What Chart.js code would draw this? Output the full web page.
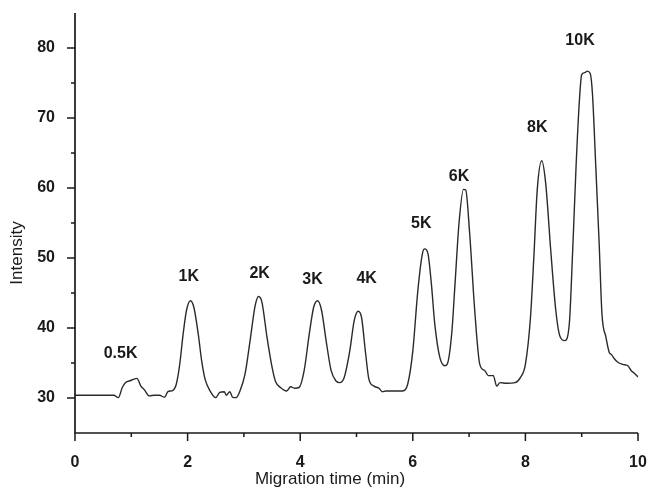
<!DOCTYPE html>
<html>
<head>
<meta charset="utf-8">
<script src="https://cdn.jsdelivr.net/npm/chart.js@4.4.0/dist/chart.umd.min.js"></script>
<style>
  html, body { margin: 0; padding: 0; background: #fff; }
  #wrap { width: 648px; height: 498px; position: relative; }
</style>
</head>
<body>
<div id="wrap"><canvas id="chart"></canvas></div>
<script>
// Electropherogram trace
const timeMin = [
    0, 0.69, 0.77, 0.84, 0.90, 0.99, 1.05, 1.10, 1.17, 1.23,
    1.32, 1.41, 1.50, 1.59, 1.65, 1.74, 1.80, 1.86, 1.92, 1.98,
    2.05, 2.11, 2.19, 2.25, 2.31, 2.40, 2.50, 2.57, 2.65, 2.69,
    2.75, 2.80, 2.86, 2.93, 3.02, 3.11, 3.20, 3.26, 3.32, 3.41,
    3.50, 3.56, 3.65, 3.76, 3.83, 3.90, 3.98, 4.07, 4.16, 4.24,
    4.31, 4.38, 4.46, 4.55, 4.64, 4.70, 4.78, 4.88, 4.96, 5.03,
    5.09, 5.16, 5.22, 5.31, 5.40, 5.46, 5.52, 5.64, 5.82, 5.91,
    6.00, 6.09, 6.17, 6.21, 6.27, 6.33, 6.39, 6.48, 6.57, 6.61,
    6.69, 6.75, 6.82, 6.90, 6.94, 7.01, 7.10, 7.19, 7.28, 7.34,
    7.43, 7.49, 7.55, 7.67, 7.82, 7.91, 8.00, 8.09, 8.15, 8.21,
    8.29, 8.36, 8.45, 8.54, 8.61, 8.70, 8.78, 8.84, 8.90, 8.96,
    9.00, 9.06, 9.10, 9.15, 9.19, 9.25, 9.31, 9.36, 9.43, 9.49,
    9.53, 9.58, 9.64, 9.73, 9.82, 9.88, 9.94, 10.0
];
const intensity = [
    30.4, 30.4, 30.05, 31.5, 32.2, 32.5, 32.7, 32.8, 31.7, 31.2,
    30.3, 30.4, 30.4, 30.1, 30.9, 31.1, 32.0, 34.8, 39.1, 42.5,
    43.9, 43.0, 39.1, 35.3, 32.7, 31.0, 30.05, 30.8, 30.9, 30.4,
    30.9, 30.1, 30.05, 31.0, 33.4, 38.2, 43.2, 44.5, 43.7, 38.7,
    34.4, 32.4, 31.5, 31.0, 31.6, 31.4, 31.5, 33.9, 39.1, 43.0,
    43.9, 42.5, 38.2, 33.9, 32.4, 32.2, 32.9, 36.7, 41.1, 42.4,
    41.5, 36.5, 32.7, 31.7, 31.4, 30.9, 31.0, 31.0, 31.0, 32.0,
    36.7, 45.4, 50.6, 51.3, 50.6, 46.3, 40.6, 35.8, 34.6, 34.8,
    39.1, 46.3, 54.9, 59.8, 59.7, 53.5, 42.5, 34.8, 33.9, 33.2,
    33.2, 31.7, 32.2, 32.1, 32.2, 32.9, 34.8, 41.5, 50.1, 59.7,
    63.9, 60.7, 51.1, 42.5, 38.9, 38.2, 40.6, 51.1, 63.1, 72.6,
    76.2, 76.5, 76.7, 76.4, 73.6, 63.1, 52.1, 42.0, 38.7, 36.5,
    36.2, 35.6, 35.1, 34.8, 34.6, 33.9, 33.5, 33.0
];

// Peak labels (text and where they sit, in data units)
const peakNames = ['0.5K', '1K', '2K', '3K', '4K', '5K', '6K', '8K', '10K'];
const peakLabelX = [0.81, 2.02, 3.28, 4.22, 5.18, 6.15, 6.82, 8.21, 8.97];
const peakLabelY = [36.4, 47.3, 47.8, 46.9, 47.0, 54.9, 61.6, 68.6, 81.1];

// Axis ticks
const xMajorTicks = [0, 2, 4, 6, 8, 10];
const xMinorTicks = [1, 3, 5, 7, 9];
const yMajorTicks = [30, 40, 50, 60, 70, 80];
const yMinorTicks = [35, 45, 55, 65, 75];

const INK = '#1a1a1a';
const FONT_FAMILY = '"Liberation Sans", Arial, sans-serif';
const TICK_FONT = 'bold 16px ' + FONT_FAMILY;
const TITLE_FONT = '17px ' + FONT_FAMILY;

// Draws axes, tick marks, axis titles and peak labels
const axesPlugin = {
    id: 'axesPlugin',
    afterDraw(chart) {
        const ctx = chart.ctx;
        const xs = chart.scales.x;
        const ys = chart.scales.y;
        const area = chart.chartArea;

        ctx.save();
        ctx.strokeStyle = INK;
        ctx.lineWidth = 1.7;
        ctx.beginPath();
        ctx.moveTo(area.left, area.top);
        ctx.lineTo(area.left, area.bottom);
        ctx.lineTo(area.right, area.bottom);
        ctx.stroke();

        ctx.lineWidth = 1.5;
        ctx.beginPath();
        xMajorTicks.forEach(v => {
            const px = xs.getPixelForValue(v);
            ctx.moveTo(px, area.bottom);
            ctx.lineTo(px, area.bottom + 8);
        });
        xMinorTicks.forEach(v => {
            const px = xs.getPixelForValue(v);
            ctx.moveTo(px, area.bottom);
            ctx.lineTo(px, area.bottom + 4);
        });
        yMajorTicks.forEach(v => {
            const py = ys.getPixelForValue(v);
            ctx.moveTo(area.left, py);
            ctx.lineTo(area.left - 8, py);
        });
        yMinorTicks.forEach(v => {
            const py = ys.getPixelForValue(v);
            ctx.moveTo(area.left, py);
            ctx.lineTo(area.left - 4, py);
        });
        ctx.stroke();

        ctx.fillStyle = INK;
        ctx.font = TICK_FONT;
        ctx.textAlign = 'center';
        ctx.textBaseline = 'middle';
        peakNames.forEach((name, i) => {
            ctx.fillText(name, xs.getPixelForValue(peakLabelX[i]), ys.getPixelForValue(peakLabelY[i]));
        });

        ctx.font = TITLE_FONT;
        ctx.fillText('Migration time (min)', area.left + 255, area.bottom + 46);
        ctx.translate(17, area.top + 240);
        ctx.rotate(-Math.PI / 2);
        ctx.fillText('Intensity', 0, 0);
        ctx.restore();
    }
};

const points = timeMin.map((t, i) => ({ x: t, y: intensity[i] }));

new Chart(document.getElementById('chart'), {
    type: 'line',
    data: {
        datasets: [{
            data: points,
            borderColor: '#2a2a2a',
            borderWidth: 1.4,
            pointRadius: 0,
            fill: false,
            cubicInterpolationMode: 'monotone'
        }]
    },
    options: {
        responsive: true,
        maintainAspectRatio: false,
        animation: false,
        layout: { padding: { top: 13, right: 10, left: 0, bottom: 0 } },
        plugins: { legend: { display: false }, tooltip: { enabled: false } },
        scales: {
            x: {
                type: 'linear',
                min: 0,
                max: 10,
                grid: { display: false },
                border: { display: false },
                ticks: {
                    stepSize: 2,
                    padding: 12,
                    color: INK,
                    maxRotation: 0,
                    font: { family: FONT_FAMILY, size: 16, weight: 'bold' }
                },
                afterFit(scale) {
                    scale.height = 65;
                    scale.paddingLeft = 0;
                    scale.paddingRight = 0;
                }
            },
            y: {
                min: 25,
                max: 85,
                grid: { display: false },
                border: { display: false },
                ticks: {
                    stepSize: 5,
                    padding: 12,
                    color: INK,
                    font: { family: FONT_FAMILY, size: 16, weight: 'bold' },
                    callback: (v) => yMajorTicks.includes(v) ? String(v) : ''
                },
                afterFit(scale) {
                    scale.width = 75;
                    scale.paddingTop = 0;
                    scale.paddingBottom = 0;
                }
            }
        }
    },
    plugins: [axesPlugin]
});
</script>
</body>
</html>
